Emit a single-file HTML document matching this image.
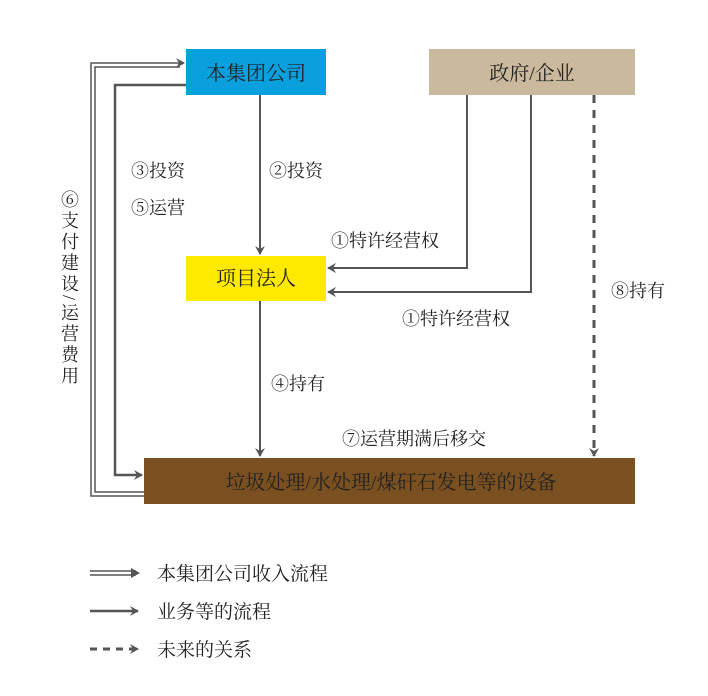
<!DOCTYPE html>
<html><head><meta charset="utf-8"><style>
body{margin:0;background:#fff;}
svg text{font-family:"Liberation Serif","Noto Serif CJK SC",serif;fill:#222;}
</style></head><body>
<svg width="708" height="691" viewBox="0 0 708 691" xmlns="http://www.w3.org/2000/svg">
<defs>
<marker id="ah" markerWidth="10" markerHeight="10" refX="8" refY="5" orient="auto" markerUnits="userSpaceOnUse">
<path d="M0,0 L9,5 L0,10 L3,5 Z" fill="#555"/></marker>
</defs>
<rect x="186" y="49" width="140" height="46" fill="#0aa0de"/>
<text x="256" y="80" font-size="20" text-anchor="middle">本集团公司</text>
<rect x="429" y="49" width="206" height="46" fill="#cbb99d"/>
<text x="532" y="80" font-size="20" text-anchor="middle">政府/企业</text>
<rect x="186" y="256" width="140" height="45" fill="#ffe900"/>
<text x="256" y="285" font-size="20" text-anchor="middle">项目法人</text>
<rect x="144" y="458" width="491" height="46" fill="#7b5020"/>
<text x="391" y="489" font-size="20" text-anchor="middle">垃圾处理/水处理/煤矸石发电等的设备</text>

<g stroke="#555" fill="none" stroke-width="2">
<path d="M144,496 H91 V63 H184" stroke-width="1.5" marker-end="url(#ah)"/>
<path d="M144,492 H95 V67 H180" stroke-width="1.5"/>
<path d="M186,85 H115 V475 H142" stroke-width="2.5" marker-end="url(#ah)"/>
<path d="M260,95 V254" marker-end="url(#ah)"/>
<path d="M260,301 V456" marker-end="url(#ah)"/>
<path d="M467,95 V268 H328" marker-end="url(#ah)"/>
<path d="M531,95 V292 H328" marker-end="url(#ah)"/>
<path d="M594,95 V456" stroke-dasharray="8,7" stroke-width="3" marker-end="url(#ah)"/>
</g>

<g font-size="18">
<text x="131" y="177">③投资</text>
<text x="131" y="214">⑤运营</text>
<text x="269" y="177">②投资</text>
<text x="331" y="247">①特许经营权</text>
<text x="402" y="325">①特许经营权</text>
<text x="611" y="297">⑧持有</text>
<text x="271" y="390">④持有</text>
<text x="342" y="445">⑦运营期满后移交</text>
</g>
<text x="69" y="190" font-size="18" writing-mode="tb" style="writing-mode:tb;" letter-spacing="3">⑥支付建设/运营费用</text>

<g stroke="#555" fill="none">
<path d="M90,571 H136" stroke-width="1.5"/><path d="M90,575 H136" stroke-width="1.5"/>
<path d="M90,611 H138" stroke-width="2.5" marker-end="url(#ah)"/>
<path d="M90,649 H138" stroke-width="3" stroke-dasharray="7,6" marker-end="url(#ah)"/>
</g>
<path d="M131,568 L140,573 L131,578 Z" fill="#555"/>
<g font-size="19">
<text x="157" y="580">本集团公司收入流程</text>
<text x="157" y="618">业务等的流程</text>
<text x="157" y="656">未来的关系</text>
</g>
</svg>
</body></html>
